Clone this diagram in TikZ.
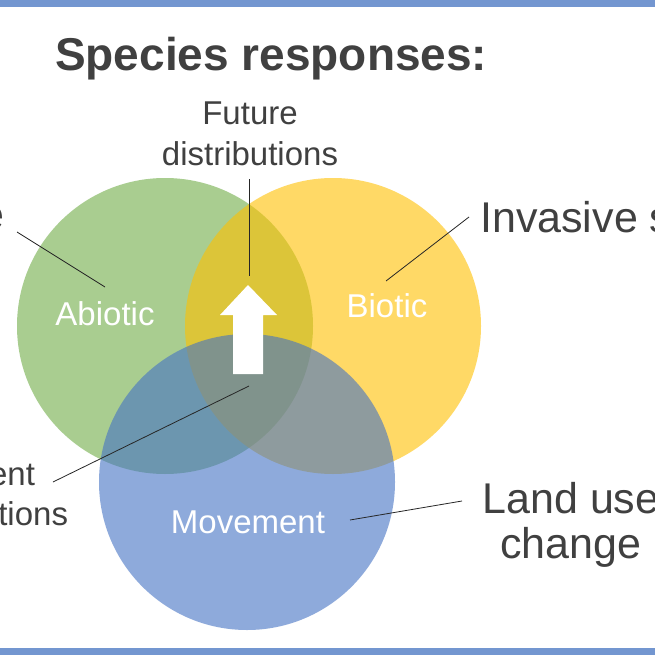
\documentclass[tikz,border=0pt]{standalone}
\usepackage{fontspec}
\setmainfont{Liberation Sans}
\definecolor{band}{HTML}{7396D0}
\definecolor{cgreen}{HTML}{70AD47}
\definecolor{cyellow}{HTML}{FFC000}
\definecolor{cblue}{HTML}{4472C4}
\definecolor{txt}{HTML}{404040}
\begin{document}
\begin{tikzpicture}[x=1pt,y=-1pt,
  venn/.style={circle,minimum size=296pt,inner sep=0pt,fill opacity=0.6},
  inlabel/.style={text=white,font=\fontsize{33}{40}\selectfont,inner sep=0pt,anchor=base},
  outlabel/.style={text=txt,font=\fontsize{43}{50}\selectfont,inner sep=0pt,anchor=base},
  midlabel/.style={text=txt,font=\fontsize{33}{40}\selectfont,inner sep=0pt,anchor=base},
  leader/.style={draw=black!85,line width=0.8pt}]
\useasboundingbox (0,0) rectangle (655,655);
\clip (0,0) rectangle (655,655);
\fill[white] (0,0) rectangle (655,655);
\fill[band] (0,0) rectangle (655,7);
\fill[band] (0,648) rectangle (655,655);
\node[text=txt,font=\bfseries\fontsize{46}{50}\selectfont,inner sep=0pt,anchor=base west] (title) at (55,71) {Species responses:};
% circles
\node[venn,fill=cgreen] (cgr) at (165,326) {};
\node[venn,fill=cyellow] (cye) at (333,326) {};
\node[venn,fill=cblue] (cbl) at (247,482) {};
% arrow
\fill[white] (248,285) -- (277,315) -- (263,315) -- (263,374) -- (233,374) -- (233,315) -- (220,315) -- cycle;
% inner labels
\node[inlabel] (abiotic) at (105,325) {Abiotic};
\node[inlabel] (biotic) at (387,317) {Biotic};
\node[inlabel] (movement) at (248,533) {Movement};
% outer labels
\node[midlabel] (fut1) at (250,125) {Future};
\node[midlabel] (fut2) at (250,165) {distributions};
\node[midlabel] (cur1) at (-20,485) {Current};
\node[midlabel] (cur2) at (-20,525) {distributions};
\node[outlabel] (cli1) at (-68,229) {Climate};
\node[outlabel] (cli2) at (-68,274) {change};
\node[outlabel,anchor=base west] (inv) at (480,232) {Invasive species};
\node[outlabel] (land1) at (571,513) {Land use};
\node[outlabel] (land2) at (571,558) {change};
% leader lines
\coordinate (cliE) at (17,232);
\coordinate (abiE) at (105,287);
\coordinate (invE) at (469,217);
\coordinate (bioE) at (386,281);
\coordinate (futE) at (249,179);
\coordinate (tipE) at (249,276);
\coordinate (curE) at (53,482);
\coordinate (cenE) at (249,386);
\coordinate (landE) at (462,501);
\coordinate (movE) at (350,520);
\draw[leader] (cliE) -- (abiE);
\draw[leader] (invE) -- (bioE);
\draw[leader] (futE) -- (tipE);
\draw[leader] (curE) -- (cenE);
\draw[leader] (landE) -- (movE);
\end{tikzpicture}
\end{document}
